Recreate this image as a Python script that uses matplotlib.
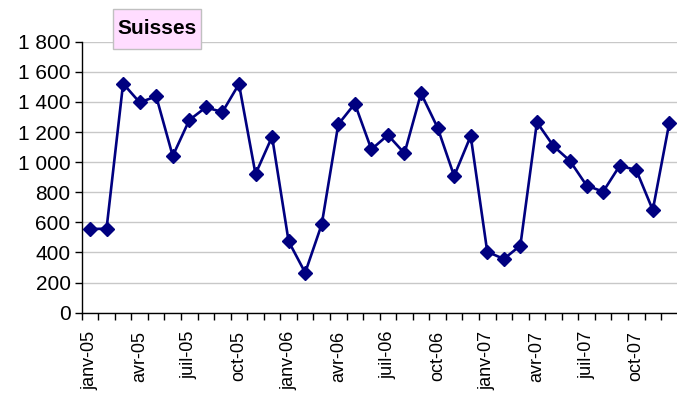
import matplotlib.pyplot as plt
from matplotlib.patches import Rectangle
from matplotlib.ticker import FixedLocator, FuncFormatter

months = ['janv', 'févr', 'mars', 'avr', 'mai', 'juin',
          'juil', 'août', 'sept', 'oct', 'nov', 'déc']
years = ['05', '06', '07']
labels = [m + '-' + y for y in years for m in months]

values = [556, 558, 1522, 1397, 1437, 1041, 1280, 1364, 1333, 1519, 921, 1169,
          474, 266, 587, 1251, 1389, 1085, 1180, 1059, 1457, 1229, 908, 1174,
          405, 357, 446, 1265, 1107, 1008, 845, 804, 976, 948, 682, 1262]

plt.rcParams['font.family'] = ['Liberation Sans', 'DejaVu Sans']

fig = plt.figure(figsize=(6.77, 3.94), dpi=100)
ax = fig.add_axes([0.1207, 0.2063, 0.8802, 0.6878])

x = list(range(len(values)))
ax.plot(x, values, color='#000080', lw=1.9, marker='D', ms=7.2,
        mec='#000080', mfc='#000080', mew=1, clip_on=False, zorder=3)

ax.set_xlim(-0.5, len(values) - 0.5)
ax.set_ylim(0, 1800)

# y axis
ax.set_yticks(range(0, 1801, 200))
ax.yaxis.set_major_formatter(FuncFormatter(lambda v, p: f'{int(v):,}'.replace(',', ' ')))
ax.tick_params(axis='y', labelsize=15, length=5, width=1, direction='out', pad=3)
ax.yaxis.grid(True, color='#C8C8C8', lw=1)
ax.set_axisbelow(True)

# x axis: ticks between categories, labels every 3 months
ax.xaxis.set_minor_locator(FixedLocator([i - 0.5 for i in range(len(values) + 1)]))
ax.set_xticks(x[::3])
ax.set_xticklabels(labels[::3], rotation=90, fontsize=13)
ax.tick_params(axis='x', which='major', length=0, pad=13)
ax.tick_params(axis='x', which='minor', length=5, width=1, direction='out')

for s in ['top', 'right']:
    ax.spines[s].set_visible(False)
ax.spines['left'].set_linewidth(1)
ax.spines['bottom'].set_linewidth(1)

# title box
fig.patches.append(Rectangle((112.5 / 677, 1 - 49 / 394), 88.5 / 677, 39.5 / 394,
                             transform=fig.transFigure, fc='#FFDDFF',
                             ec='#C0C0C0', lw=1, zorder=5))
fig.text(156.7 / 677, 1 - 29 / 394, 'Suisses', fontsize=15, fontweight='bold',
         ha='center', va='center', zorder=6)

fig.savefig('out.png', dpi=100)
